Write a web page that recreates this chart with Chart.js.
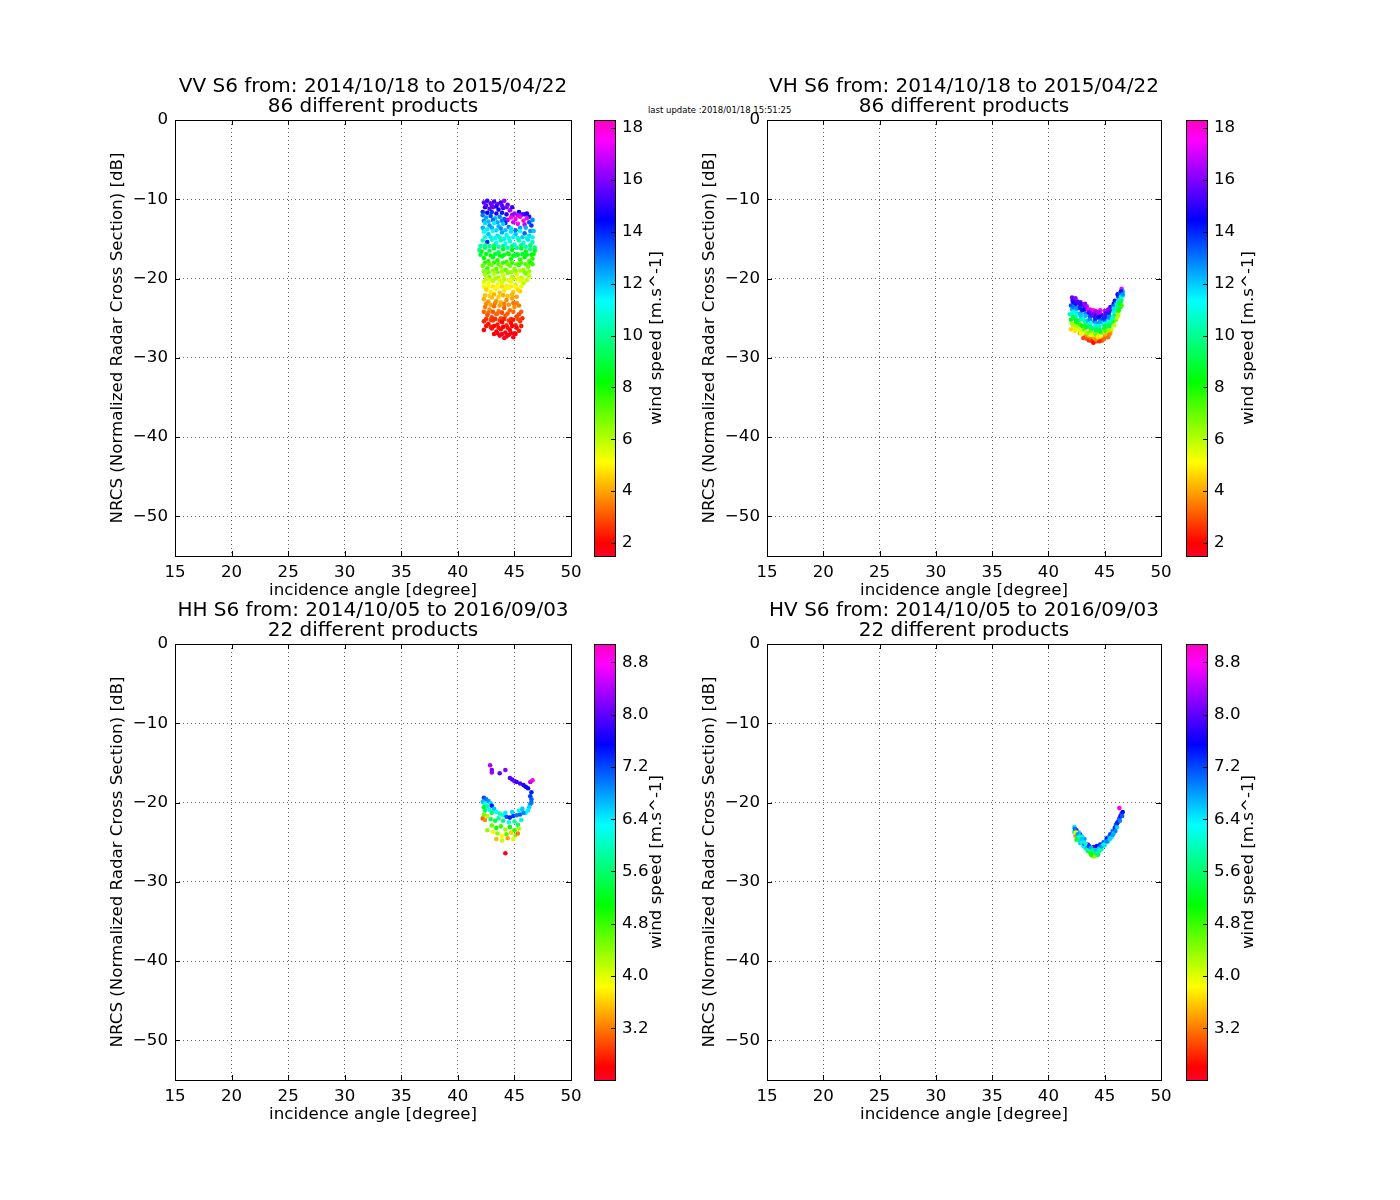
<!DOCTYPE html>
<html>
<head>
<meta charset="utf-8">
<script src="https://cdn.jsdelivr.net/npm/chart.js@4.4.0/dist/chart.umd.min.js"></script>
<style>
  body { margin: 0; background: #fff; }
  #page { position: relative; width: 1400px; height: 1200px; overflow: hidden; background: #fff; }
  canvas { position: absolute; }
  #stamp { position: absolute; left: 648px; top: 105.8px; font: 8.5px/8.5px "DejaVu Sans"; color: #000; white-space: nowrap; }
</style>
</head>
<body>
<div id="page">
  <div id="stamp">last update :2018/01/18 15:51:25</div>
</div>
<script>
// points: [incidence angle (deg), NRCS (dB), wind speed (m/s)]
const vvPoints = [
  [42.3,-10.4,15.6],[42.6,-10.2,15.1],[42.9,-10.5,15.8],[43.2,-10.3,15.3],[43.5,-10.6,15.9],[43.8,-10.4,15.0],
  [44.1,-10.2,16.2],[44.4,-10.7,15.4],[42.4,-11.0,14.8],[42.8,-11.2,15.5],[43.1,-11.0,16.0],[43.6,-11.3,14.6],
  [44.0,-11.1,15.2],[44.6,-11.4,16.4],[45.0,-11.8,16.6],[45.4,-11.6,14.4],[45.9,-11.9,15.0],[46.3,-12.2,14.2],
  [42.5,-10.8,15.3],[43.0,-10.8,15.7],[43.4,-10.9,14.9],[43.9,-10.8,15.6],[44.3,-11.0,16.0],[44.8,-11.0,15.1],
  [42.2,-11.6,14.0],[42.6,-11.7,14.5],[43.0,-11.6,13.8],[43.4,-11.8,14.9],[43.9,-11.7,14.2],[44.3,-11.9,15.0],
  [44.8,-12.0,16.1],[45.3,-12.0,16.8],[45.7,-11.9,15.6],[46.1,-11.8,14.7],
  [44.7,-12.3,17.6],[45.1,-12.5,17.9],[45.5,-12.2,17.2],[45.8,-12.7,18.0],[46.1,-12.4,17.4],[44.9,-12.9,17.0],
  [45.3,-13.1,17.8],[45.9,-13.2,16.9],[44.4,-12.6,16.8],
  [42.2,-12.0,13.0],[42.5,-12.3,12.4],[42.9,-12.1,13.6],[43.3,-12.4,12.1],[43.7,-12.2,12.8],[44.1,-12.5,13.4],
  [42.3,-12.7,12.7],[42.7,-12.8,12.2],[43.1,-12.6,13.1],[43.5,-12.9,12.4],[43.9,-12.7,13.0],[44.2,-13.0,14.1],
  [46.3,-12.9,13.5],[46.6,-12.6,12.7],
  [42.4,-13.0,11.8],[42.8,-13.3,12.6],[43.2,-13.0,11.5],[43.6,-13.4,12.2],[44.0,-13.1,11.9],[44.5,-13.5,12.9],
  [42.2,-13.6,12.3],[42.6,-13.8,11.6],[43.0,-13.6,12.4],[43.4,-13.9,11.8],[43.8,-13.7,12.7],[44.2,-13.9,12.0],
  [44.7,-13.7,11.7],[45.1,-13.9,13.1],[45.5,-13.6,12.5],[46.4,-14.0,12.6],
  [46.0,-13.6,12.3],[46.5,-13.3,13.8],[46.7,-14.0,12.0],[42.3,-14.1,11.4],[42.7,-14.4,12.0],[43.1,-14.0,11.2],
  [43.5,-14.6,11.7],[43.9,-14.2,12.4],[44.3,-14.5,11.0],[44.7,-14.1,11.6],[45.1,-14.4,12.1],[45.5,-14.0,11.3],
  [45.9,-14.3,13.2],[46.3,-14.6,11.8],
  [42.4,-14.8,11.0],[42.9,-14.8,11.6],[43.3,-14.9,11.3],[43.7,-14.8,10.8],[44.1,-15.0,11.5],[44.5,-14.9,10.9],
  [44.9,-14.8,11.4],[45.3,-14.9,11.1],[45.7,-14.8,11.9],[46.1,-14.9,10.8],[46.6,-14.8,11.2],
  [42.2,-15.2,10.6],[42.6,-15.4,13.9],[43.0,-15.1,10.9],[43.4,-15.5,11.4],
  [43.8,-15.2,10.4],[44.2,-15.6,11.1],[44.6,-15.3,10.7],[45.0,-15.7,11.5],[45.4,-15.2,10.2],[45.8,-15.5,10.9],
  [46.2,-15.1,11.6],[46.6,-15.4,10.5],
  [42.0,-15.9,10.1],[42.4,-15.8,10.4],[42.8,-15.9,10.0],[43.2,-15.8,9.7],[43.6,-16.0,10.3],[44.0,-15.9,9.9],
  [44.4,-16.1,10.5],[44.8,-15.9,9.6],[45.2,-16.1,10.1],[45.6,-15.8,9.8],[46.0,-16.0,10.4],[46.4,-15.8,9.5],
  [46.8,-16.1,9.9],
  [41.9,-16.4,10.2],[42.1,-16.6,8.4],[42.4,-16.1,9.6],[42.8,-16.5,9.1],[43.2,-16.2,8.8],[43.6,-16.7,9.4],
  [44.0,-16.3,8.5],[44.4,-16.8,9.0],[44.8,-16.4,8.2],[45.2,-16.9,9.3],[45.6,-16.2,8.7],[46.0,-16.6,8.3],
  [46.4,-16.3,9.8],[46.7,-16.9,8.0],
  [42.0,-17.0,8.8],[42.5,-16.9,8.6],[42.9,-17.1,8.2],[43.3,-16.9,8.9],[43.7,-17.1,8.4],[44.1,-17.0,8.7],
  [44.5,-16.9,8.1],[44.9,-17.1,8.6],[45.3,-17.0,8.2],[45.7,-16.9,8.9],[46.1,-17.0,8.5],[46.5,-17.0,8.3],
  [46.8,-16.5,8.6],
  [42.3,-17.4,8.1],[42.7,-17.8,7.6],[43.1,-17.3,8.6],[43.5,-17.7,7.9],
  [43.9,-17.2,8.3],[44.3,-17.9,7.5],[44.7,-17.5,8.0],[45.1,-17.1,8.9],[45.5,-17.6,7.7],[45.9,-17.3,8.4],
  [46.3,-17.8,7.2],[46.6,-17.5,7.8],
  [42.4,-18.0,7.7],[42.8,-18.2,7.3],[43.2,-18.0,7.8],[43.6,-18.2,7.2],[44.0,-18.0,7.6],[44.4,-18.2,7.0],
  [44.8,-18.0,7.7],[45.2,-18.2,7.1],[45.6,-18.0,7.4],[46.0,-18.2,7.3],[46.4,-18.0,7.9],
  [42.2,-18.4,7.0],[42.6,-18.7,7.4],[43.0,-18.3,6.8],[43.4,-18.8,7.1],[43.8,-18.5,6.5],[44.2,-18.9,7.3],
  [44.6,-18.4,6.9],[45.0,-18.8,6.6],[45.4,-18.3,7.5],[45.8,-18.9,6.3],[46.2,-18.5,7.0],[46.6,-18.2,7.6],
  [42.3,-19.1,6.6],[42.7,-19.2,6.9],[43.1,-19.0,6.5],[43.5,-19.2,6.8],[43.9,-19.1,6.2],[44.3,-19.0,6.9],
  [44.7,-19.2,6.4],[45.1,-19.1,6.7],[45.5,-19.0,6.1],[45.9,-19.2,6.6],[46.3,-19.1,6.3],
  [42.4,-19.5,6.2],[42.8,-19.8,6.7],[43.2,-19.4,6.0],[43.6,-19.9,6.4],[44.0,-19.6,5.8],[44.4,-19.3,6.6],
  [44.8,-19.8,6.1],[45.2,-19.5,5.6],[45.6,-19.9,6.3],[46.0,-19.4,6.8],[46.3,-19.7,5.9],
  [42.5,-20.1,5.9],[42.9,-20.2,5.5],[43.3,-20.0,6.1],[43.7,-20.2,5.6],[44.1,-20.1,6.0],[44.5,-20.2,5.4],
  [44.9,-20.0,5.9],[45.3,-20.1,5.5],[45.7,-20.0,5.7],[46.1,-20.2,5.8],
  [42.3,-20.4,5.6],[42.7,-20.7,5.1],[43.1,-20.3,5.9],[43.5,-20.8,5.3],[43.9,-20.5,5.7],[44.3,-20.9,4.9],
  [44.7,-20.4,5.4],[45.1,-20.8,5.8],[45.5,-20.3,5.2],[45.8,-20.6,6.0],
  [42.3,-21.0,5.0],[42.7,-21.1,5.3],[43.1,-21.0,4.8],[43.5,-21.1,5.1],[43.9,-21.0,4.7],[44.3,-21.2,5.2],
  [44.7,-21.0,4.9],[45.1,-21.1,5.1],[45.5,-21.6,4.5],
  [42.5,-21.4,4.6],[42.9,-21.7,4.9],[43.3,-21.3,5.2],[43.7,-21.8,4.4],[44.1,-21.5,4.8],[44.5,-21.2,5.0],
  [44.9,-21.7,4.5],[45.3,-21.4,4.7],[45.6,-21.0,5.3],
  [42.4,-22.1,4.4],[42.8,-22.2,4.6],[43.2,-22.0,4.2],[43.6,-22.3,4.5],[44.0,-22.1,4.1],[44.4,-22.2,4.4],
  [44.8,-22.0,4.2],[45.2,-22.3,4.0],
  [42.3,-22.6,4.1],[42.7,-22.9,3.8],[43.0,-22.4,4.3],[43.4,-22.8,3.9],[43.8,-23.0,4.2],[44.3,-22.7,3.7],
  [44.8,-22.5,4.0],[45.2,-23.1,3.6],
  [42.5,-23.2,3.7],[42.9,-23.3,4.0],[43.3,-23.1,3.6],[43.7,-23.4,3.9],[44.1,-23.2,3.5],[44.5,-23.3,3.8],
  [44.9,-23.1,3.4],[45.4,-23.4,3.5],
  [42.4,-23.6,3.5],[42.8,-23.9,3.8],[43.2,-23.5,3.3],[43.6,-24.1,3.6],
  [44.1,-23.7,3.2],[44.6,-24.0,3.4],[45.0,-23.6,3.7],[45.6,-24.2,3.1],
  [42.3,-24.2,3.2],[42.7,-24.3,3.4],[43.1,-24.2,3.0],[43.5,-24.4,3.3],[43.9,-24.3,2.9],[44.4,-24.4,3.1],
  [44.9,-24.2,3.3],[45.4,-24.5,2.9],
  [42.6,-24.6,3.0],[43.0,-24.9,2.7],[43.4,-24.5,3.2],[43.8,-25.0,2.9],[44.2,-24.7,3.1],[44.7,-25.1,2.6],
  [45.2,-24.8,2.8],
  [42.5,-25.1,2.6],[42.9,-25.2,2.8],[43.3,-25.1,2.5],[43.7,-25.3,2.7],[44.1,-25.1,2.4],[44.5,-25.3,2.6],
  [44.9,-25.2,2.3],[45.3,-25.1,2.9],[45.7,-25.0,2.5],
  [42.3,-25.4,2.4],[42.7,-25.7,2.2],[43.1,-25.3,2.6],[43.5,-25.8,2.3],[43.9,-25.5,2.0],[44.3,-25.9,2.5],
  [44.7,-25.6,2.1],[45.1,-25.9,2.4],[45.5,-25.4,2.7],
  [42.5,-26.0,2.1],[42.9,-26.1,2.3],[43.2,-26.0,2.0],[43.6,-26.2,2.2],[44.0,-26.1,1.9],[44.4,-26.2,2.1],
  [44.8,-26.0,1.8],[45.2,-26.2,2.0],[45.6,-26.0,2.2],
  [42.3,-26.5,1.9],[43.0,-26.3,2.2],[43.4,-26.7,1.8],
  [43.8,-26.4,2.1],[44.2,-26.8,1.7],[44.6,-26.5,2.0],[45.0,-26.9,1.9],[45.4,-26.6,2.3],
  [43.2,-27.0,2.0],[43.5,-26.9,1.9],[43.9,-27.0,1.7],[44.3,-27.3,1.8],[44.7,-26.9,1.6],[45.1,-27.0,1.8],
  [43.7,-27.2,1.8],[44.1,-27.5,1.6],[44.5,-27.1,1.9],[44.9,-27.4,1.7]
];

const vhPoints = [
  [42.1,-22.4,15.8],[42.3,-22.6,15.2],[42.2,-23.0,14.3],[42.0,-23.4,13.5],[42.4,-23.3,14.6],[42.1,-23.9,12.2],
  [42.3,-24.2,11.4],[41.9,-24.5,10.6],[42.2,-24.8,9.3],[42.0,-25.2,8.1],[42.4,-25.0,10.2],[42.1,-25.7,6.4],
  [42.3,-26.1,5.2],[42.0,-26.4,4.6],[42.5,-26.0,6.0],[42.6,-22.9,15.5],[42.6,-23.7,13.1],[42.6,-24.4,11.8],
  [42.7,-25.3,9.6],[42.7,-26.4,5.8],[42.8,-26.9,3.9],
  [42.15,-22.8,14.9],[42.2,-23.6,13.0],[42.15,-24.3,11.0],[42.25,-25.0,9.0],[42.2,-25.9,6.0],[42.35,-26.6,4.8],
  [42.5,-23.0,15.1],[42.5,-23.8,12.6],[42.55,-24.6,10.9],[42.45,-25.3,8.3],[42.5,-26.4,5.5],
  [42.85,-23.0,15.8],[42.8,-23.7,13.9],[42.85,-24.4,12.3],[42.9,-25.1,10.0],[42.8,-25.8,7.6],[42.9,-26.5,5.7],
  [43.0,-23.3,16.0],[43.2,-23.6,15.3],[43.0,-24.0,14.1],[43.3,-24.4,12.9],[42.9,-24.7,12.0],[43.1,-25.1,11.0],
  [43.3,-25.6,9.4],[43.0,-26.0,8.2],[43.2,-26.5,6.9],[42.9,-26.9,5.1],[43.3,-27.2,3.8],[43.1,-27.5,2.9],
  [43.25,-23.2,16.2],[43.2,-23.9,14.5],[43.3,-24.7,12.2],[43.25,-25.4,10.3],[43.2,-26.2,7.5],[43.3,-26.8,5.6],
  [43.4,-27.6,3.1],
  [43.5,-23.9,17.4],[43.6,-24.3,15.4],[43.7,-24.8,13.6],[43.5,-25.3,12.1],[43.6,-25.9,10.4],[43.8,-26.4,8.6],
  [43.5,-26.9,6.5],[43.7,-27.4,4.2],[43.6,-27.8,2.6],
  [43.7,-23.9,17.1],[43.75,-24.3,15.0],[43.7,-25.2,12.8],[43.75,-25.6,11.2],[43.7,-26.1,9.4],[43.75,-26.7,7.1],
  [43.8,-27.6,3.5],[43.9,-27.9,2.4],
  [44.0,-24.0,17.8],[44.2,-24.1,17.2],[44.0,-24.7,15.6],[44.3,-24.9,14.8],[44.1,-25.4,13.0],[44.4,-25.8,11.7],
  [44.0,-26.2,10.1],[44.2,-26.7,8.3],[44.5,-27.1,6.2],[44.1,-27.5,4.4],[44.3,-27.9,2.7],[44.0,-28.1,2.1],
  [44.15,-24.3,16.4],[44.2,-24.6,15.3],[44.15,-25.1,14.0],[44.2,-25.6,12.4],[44.15,-26.0,10.9],[44.2,-26.4,9.2],
  [44.15,-27.0,6.9],[44.2,-27.7,3.6],
  [44.6,-24.0,17.5],[44.7,-24.6,15.2],[44.6,-25.2,13.3],[44.8,-25.7,11.4],[44.5,-26.3,9.8],[44.7,-26.8,7.4],
  [44.6,-27.5,4.8],[44.8,-27.8,3.1],
  [44.55,-24.3,16.8],[44.5,-24.8,14.6],[44.55,-25.5,12.5],[44.5,-26.0,10.6],[44.55,-26.6,8.6],[44.5,-27.3,5.3],
  [44.55,-27.9,2.5],
  [45.0,-24.1,17.0],[45.1,-24.4,14.9],[45.2,-24.9,13.4],[45.0,-25.4,11.9],[45.3,-25.8,10.2],[45.1,-26.3,8.7],
  [45.2,-26.8,6.3],[45.0,-27.2,4.1],[45.3,-27.4,3.3],
  [45.05,-24.6,15.6],[44.95,-25.2,13.2],[45.05,-25.7,11.0],[44.95,-26.3,9.2],[45.05,-26.6,7.2],[44.95,-27.6,3.2],
  [45.5,-23.6,15.3],[45.6,-24.0,13.8],[45.4,-24.6,12.4],
  [45.5,-25.1,11.2],[45.7,-25.6,9.6],[45.4,-26.1,7.9],[45.6,-26.5,5.7],[45.5,-26.9,3.9],
  [45.4,-24.0,15.8],[45.35,-24.3,14.0],[45.4,-24.9,12.8],[45.35,-25.5,10.8],[45.4,-25.9,9.0],[45.35,-26.5,6.4],
  [45.4,-27.1,3.5],
  [45.8,-23.2,14.8],[45.75,-23.5,13.3],[45.8,-24.2,11.4],[45.75,-24.8,9.7],[45.8,-25.4,7.8],[45.85,-25.9,5.9],
  [45.9,-22.8,14.2],[46.0,-23.2,12.6],[45.8,-23.8,11.7],[46.1,-24.1,10.4],[45.9,-24.7,8.8],[46.0,-25.2,6.8],
  [46.2,-22.3,13.5],[46.3,-22.7,11.8],[46.1,-23.3,10.5],[46.4,-23.6,9.2],[46.2,-24.2,7.3],[46.5,-21.3,17.6],
  [46.15,-22.0,14.3],[46.2,-22.9,11.5],[46.15,-23.6,9.8],[46.25,-24.0,8.0],[46.1,-24.9,5.8],
  [46.4,-21.8,13.0],[46.6,-22.2,11.3],[46.5,-22.7,10.0],[46.3,-23.1,8.4],[46.6,-21.6,12.2],
  [46.45,-21.6,14.1],[46.45,-22.3,11.0],[46.4,-23.0,9.0],[46.5,-23.4,7.5],[46.6,-22.0,12.7],
  [42.4,-22.5,16.2],[43.4,-23.5,16.6],[44.4,-24.3,16.5],[45.3,-23.9,16.1],[42.8,-23.2,15.0],[43.9,-24.5,15.9],
  [44.9,-25.0,14.0],[43.4,-26.1,9.0],[44.3,-26.5,9.5],[45.0,-26.0,9.1],[42.5,-25.5,8.8],[43.8,-27.1,5.5],
  [44.4,-27.4,4.9],[45.7,-25.0,10.9],[46.2,-24.6,6.0]
];

const hhPoints = [
  [42.85,-15.3,8.4],[43.0,-15.9,8.1],[43.0,-16.2,8.3],[43.7,-16.3,8.0],[44.2,-15.9,8.2],
  [44.6,-16.9,8.0],[44.8,-17.1,7.9],[45.0,-17.3,8.1],[45.2,-17.4,7.8],[45.5,-17.6,7.9],[45.8,-17.8,7.7],
  [46.0,-18.0,7.6],[46.2,-18.2,7.5],[46.4,-17.4,8.4],[46.6,-17.2,8.9],[46.5,-18.7,7.4],[46.4,-19.2,7.3],
  [46.5,-19.6,7.1],[46.4,-20.2,6.8],[46.3,-20.6,6.5],[46.5,-20.0,7.0],[46.2,-21.0,6.4],[46.0,-21.3,6.2],
  [42.3,-19.4,7.2],[42.5,-19.6,7.0],[42.2,-19.9,6.6],[42.7,-19.8,6.8],[42.4,-20.2,6.3],[42.9,-20.1,6.5],
  [42.3,-20.6,5.2],[42.6,-20.5,6.0],[43.0,-20.4,7.4],[42.4,-21.0,5.6],[42.8,-20.9,6.2],[43.2,-20.8,6.6],
  [43.4,-21.2,6.3],[43.7,-21.4,6.0],[43.0,-21.3,5.5],[42.2,-22.0,3.1],[42.4,-22.2,3.3],[42.6,-21.7,4.2],
  [42.3,-21.5,4.5],[44.0,-21.6,6.1],[44.3,-21.8,7.2],[44.6,-21.9,7.4],[44.9,-21.7,7.3],[45.2,-21.6,7.0],
  [45.5,-21.5,7.1],[45.8,-21.3,6.9],[44.2,-21.3,6.4],[44.8,-21.2,6.5],[45.4,-21.0,6.3],[45.7,-20.8,6.6],
  [43.6,-22.0,5.9],[44.0,-22.3,5.7],[44.5,-22.5,6.2],[45.0,-22.4,5.8],[45.6,-22.2,6.0],[45.3,-22.8,5.5],
  [43.3,-22.3,5.3],[42.9,-22.1,5.6],
  [43.0,-22.9,4.6],[43.4,-23.2,5.0],[43.8,-23.0,4.8],[44.2,-23.4,4.3],[44.6,-23.1,5.1],[45.0,-23.5,4.9],
  [45.4,-23.3,4.2],[43.1,-23.7,3.9],[43.5,-23.9,4.4],[43.9,-24.2,3.8],[44.3,-24.0,4.7],[44.7,-23.8,3.6],
  [45.1,-24.1,4.5],[43.4,-24.6,3.5],[43.9,-24.8,4.1],[44.4,-24.5,3.4],[45.3,-23.9,3.2],[44.2,-26.4,2.5],
  [42.6,-23.5,4.4],[44.9,-24.6,4.0]
];

const hvPoints = [
  [42.3,-23.1,6.4],[42.4,-23.4,6.1],[42.3,-23.7,5.8],[42.5,-23.9,6.3],[42.4,-24.2,3.3],[42.6,-24.3,5.9],
  [42.5,-23.5,8.2],[42.8,-24.0,7.8],[42.7,-24.6,6.2],[42.9,-24.8,5.7],[42.8,-25.1,6.5],[43.0,-25.0,6.0],
  [43.1,-25.5,6.3],[43.2,-25.2,7.6],[43.3,-25.8,5.9],[43.4,-25.5,6.6],[43.5,-26.1,5.4],[43.6,-25.8,6.2],
  [43.5,-25.3,8.1],[43.7,-26.3,4.9],[43.8,-26.0,6.4],[43.9,-26.5,5.1],[44.0,-26.2,6.0],[44.0,-25.6,7.9],
  [44.1,-26.7,3.4],[44.2,-26.4,5.6],[44.3,-26.0,6.3],[44.3,-25.5,7.7],[44.4,-26.3,6.1],[44.5,-25.8,6.5],
  [44.6,-25.3,7.4],[44.7,-25.9,5.8],[44.8,-25.5,6.2],[44.9,-25.0,7.2],[45.0,-25.4,6.0],[45.1,-24.8,6.7],
  [45.2,-24.5,7.5],[45.3,-24.9,6.3],[45.4,-24.3,6.9],[45.5,-24.0,7.3],[45.6,-24.4,6.1],[45.7,-23.6,7.0],
  [45.8,-23.9,6.4],[45.9,-23.2,7.4],[46.0,-22.8,7.1],[46.1,-23.1,6.5],[46.2,-22.4,7.6],[46.3,-22.0,7.2],
  [46.4,-21.7,7.7],[46.5,-21.4,7.3],[46.6,-21.2,7.5],[46.3,-20.7,8.9],[42.5,-24.7,5.3],[43.2,-24.6,6.8],
  [44.0,-26.8,4.4],[43.8,-26.6,5.0],[44.4,-26.6,5.5],[42.7,-23.8,6.6],[43.0,-24.3,6.4],
  [42.35,-23.3,7.0],[42.45,-23.8,3.9],[42.6,-24.0,6.8],[42.75,-24.3,6.0],[42.95,-24.6,6.6],[43.15,-25.0,6.4],
  [43.35,-25.3,6.1],[43.6,-25.5,7.3],[43.8,-25.7,6.7],[43.95,-26.0,5.6],[44.2,-26.0,6.6],[44.5,-26.1,5.9],
  [44.7,-25.5,6.8],[44.9,-25.3,6.4],[45.2,-24.9,6.9],[45.45,-24.6,6.5],[45.7,-24.1,6.8],[45.95,-23.6,6.9],
  [46.1,-22.6,7.4],[46.35,-22.3,6.9],[46.55,-21.7,7.1]
];

// colorbar ranges and tick steps
const windRangeS1 = [1.5, 18.31];
const windRangeS2 = [2.41, 9.08];
const xTicksStep = 5;
const yTicksStep = 10;

const FONT = 'DejaVu Sans';

// gist_rainbow colour stops
const rainbowStops = [
  [0.000, [255, 0, 41]], [0.030, [255, 0, 0]], [0.215, [255, 255, 0]], [0.400, [0, 255, 0]],
  [0.586, [0, 255, 255]], [0.770, [0, 0, 255]], [0.954, [255, 0, 255]], [1.000, [255, 0, 191]]
];

function rainbow(t) {
  t = Math.max(0, Math.min(1, t));
  for (let i = 1; i < rainbowStops.length; i++) {
    const [t1, c1] = rainbowStops[i];
    const [t0, c0] = rainbowStops[i - 1];
    if (t <= t1) {
      const f = (t - t0) / (t1 - t0);
      const c = c0.map((v, k) => Math.round(v + (c1[k] - v) * f));
      return `rgb(${c[0]},${c[1]},${c[2]})`;
    }
  }
  return 'rgb(255,0,191)';
}

// frame + inward ticks, matplotlib classic look
const framePlugin = {
  id: 'frame',
  afterDraw(chart) {
    const {ctx, chartArea: a, scales} = chart;
    ctx.save();
    ctx.strokeStyle = '#000';
    ctx.lineWidth = 1;
    ctx.beginPath();
    scales.x.ticks.forEach(t => {
      const px = Math.round(scales.x.getPixelForValue(t.value)) + 0.5;
      ctx.moveTo(px, a.bottom); ctx.lineTo(px, a.bottom - 5);
      ctx.moveTo(px, a.top); ctx.lineTo(px, a.top + 5);
    });
    scales.y.ticks.forEach(t => {
      const py = Math.round(scales.y.getPixelForValue(t.value)) + 0.5;
      ctx.moveTo(a.left, py); ctx.lineTo(a.left + 5, py);
      ctx.moveTo(a.right, py); ctx.lineTo(a.right - 5, py);
    });
    ctx.stroke();
    ctx.strokeRect(Math.round(a.left) + 0.5, Math.round(a.top) + 0.5,
      Math.round(a.right - a.left), Math.round(a.bottom - a.top));
    ctx.restore();
  }
};

const colorbarPlugin = {
  id: 'colorbar',
  beforeDraw(chart) {
    const {ctx, chartArea: a} = chart;
    const g = ctx.createLinearGradient(0, a.bottom, 0, a.top);
    rainbowStops.forEach(([t, c]) => g.addColorStop(t, `rgb(${c[0]},${c[1]},${c[2]})`));
    ctx.save();
    ctx.fillStyle = g;
    ctx.fillRect(a.left, a.top, a.right - a.left, a.bottom - a.top);
    ctx.restore();
  },
  afterDraw(chart) {
    const {ctx, chartArea: a, scales: {y}} = chart;
    ctx.save();
    ctx.strokeStyle = '#000';
    ctx.lineWidth = 1;
    ctx.beginPath();
    y.ticks.forEach(t => {
      const py = Math.round(y.getPixelForValue(t.value)) + 0.5;
      ctx.moveTo(a.right, py); ctx.lineTo(a.right - 5, py);
    });
    ctx.stroke();
    ctx.strokeRect(Math.round(a.left) + 0.5, Math.round(a.top) + 0.5,
      Math.round(a.right - a.left) - 1, Math.round(a.bottom - a.top));
    // colorbar label, reads bottom to top
    ctx.translate(a.left + 63, (a.top + a.bottom) / 2);
    ctx.rotate(-Math.PI / 2);
    ctx.font = `16.67px "${FONT}"`;
    ctx.fillStyle = '#000';
    ctx.textAlign = 'center';
    ctx.textBaseline = 'middle';
    ctx.fillText('wind speed [m.s^-1]', 0, 0);
    ctx.restore();
  }
};

const page = document.getElementById('page');

function addCanvas(left, top, width, height) {
  const c = document.createElement('canvas');
  c.width = width; c.height = height;
  c.style.left = left + 'px'; c.style.top = top + 'px';
  page.appendChild(c);
  return c;
}

const tickFont = {family: FONT, size: 16.67};
const minus = v => (v < 0 ? '\u2212' : '') + Math.abs(v);

function drawPanel(p) {
  const canvas = addCanvas(p.left - 75, p.top - 80, 75 + p.width + 18, 80 + p.height + 60);
  new Chart(canvas, {
    type: 'scatter',
    data: {
      datasets: [{
        data: p.points.map(q => ({x: q[0], y: q[1]})),
        pointBackgroundColor: p.points.map(q => rainbow((q[2] - p.range[0]) / (p.range[1] - p.range[0]))),
        pointBorderWidth: 0,
        pointRadius: 2.3
      }]
    },
    options: {
      responsive: false,
      animation: false,
      layout: {padding: {left: 0, top: 36.25, right: 18, bottom: 5}},
      plugins: {
        legend: {display: false},
        tooltip: {enabled: false},
        title: {
          display: true,
          fullSize: false,
          text: p.title,
          color: '#000',
          font: {family: FONT, size: 20, weight: 'normal', lineHeight: 1.025},
          padding: {top: 0, bottom: 2.75}
        }
      },
      scales: {
        x: {
          type: 'linear', min: 15, max: 50,
          ticks: {stepSize: xTicksStep, padding: 7, color: '#000', font: tickFont, maxRotation: 0},
          grid: {color: 'rgba(0,0,0,0.6)', drawTicks: false, lineWidth: 1},
          border: {display: false, dash: [1, 3]},
          title: {display: true, text: 'incidence angle [degree]', color: '#000', font: tickFont, padding: {top: 0, bottom: 10}},
          afterFit(s) { s.height = 55; }
        },
        y: {
          type: 'linear', min: -55, max: 0,
          ticks: {stepSize: yTicksStep, includeBounds: false, padding: 7, color: '#000', font: tickFont, callback: minus},
          grid: {color: 'rgba(0,0,0,0.6)', drawTicks: false, lineWidth: 1},
          border: {display: false, dash: [1, 3]},
          title: {display: true, text: 'NRCS (Normalized Radar Cross Section) [dB]', color: '#000', font: tickFont, padding: {top: 8, bottom: 0}},
          afterFit(s) { s.width = 75; }
        }
      }
    },
    plugins: [framePlugin]
  });

  const cb = addCanvas(p.cbLeft, p.top - 20, 90, p.height + 40);
  new Chart(cb, {
    type: 'scatter',
    data: {datasets: []},
    options: {
      responsive: false,
      animation: false,
      layout: {padding: {left: 0, top: 20, right: 0, bottom: 20}},
      plugins: {legend: {display: false}, tooltip: {enabled: false}},
      scales: {
        x: {display: false, min: 0, max: 1},
        y: {
          position: 'right', min: p.range[0], max: p.range[1],
          ticks: {stepSize: p.cbStep, includeBounds: false, padding: 6, color: '#000', font: tickFont,
            callback: v => v.toFixed(p.cbDec)},
          grid: {display: false, drawTicks: false},
          border: {display: false},
          afterFit(s) { s.width = 68; }
        }
      }
    },
    plugins: [colorbarPlugin]
  });
}

const panels = [
  {title: ['VV S6 from: 2014/10/18 to 2015/04/22', '86 different products'], points: vvPoints, range: windRangeS1,
   cbStep: 2, cbDec: 0, left: 175, top: 120, width: 396, height: 436, cbLeft: 594},
  {title: ['VH S6 from: 2014/10/18 to 2015/04/22', '86 different products'], points: vhPoints, range: windRangeS1,
   cbStep: 2, cbDec: 0, left: 767, top: 120, width: 394, height: 436, cbLeft: 1186},
  {title: ['HH S6 from: 2014/10/05 to 2016/09/03', '22 different products'], points: hhPoints, range: windRangeS2,
   cbStep: 0.8, cbDec: 1, left: 175, top: 644, width: 396, height: 436, cbLeft: 594},
  {title: ['HV S6 from: 2014/10/05 to 2016/09/03', '22 different products'], points: hvPoints, range: windRangeS2,
   cbStep: 0.8, cbDec: 1, left: 767, top: 644, width: 394, height: 436, cbLeft: 1186}
];

panels.forEach(drawPanel);
</script>
</body>
</html>
